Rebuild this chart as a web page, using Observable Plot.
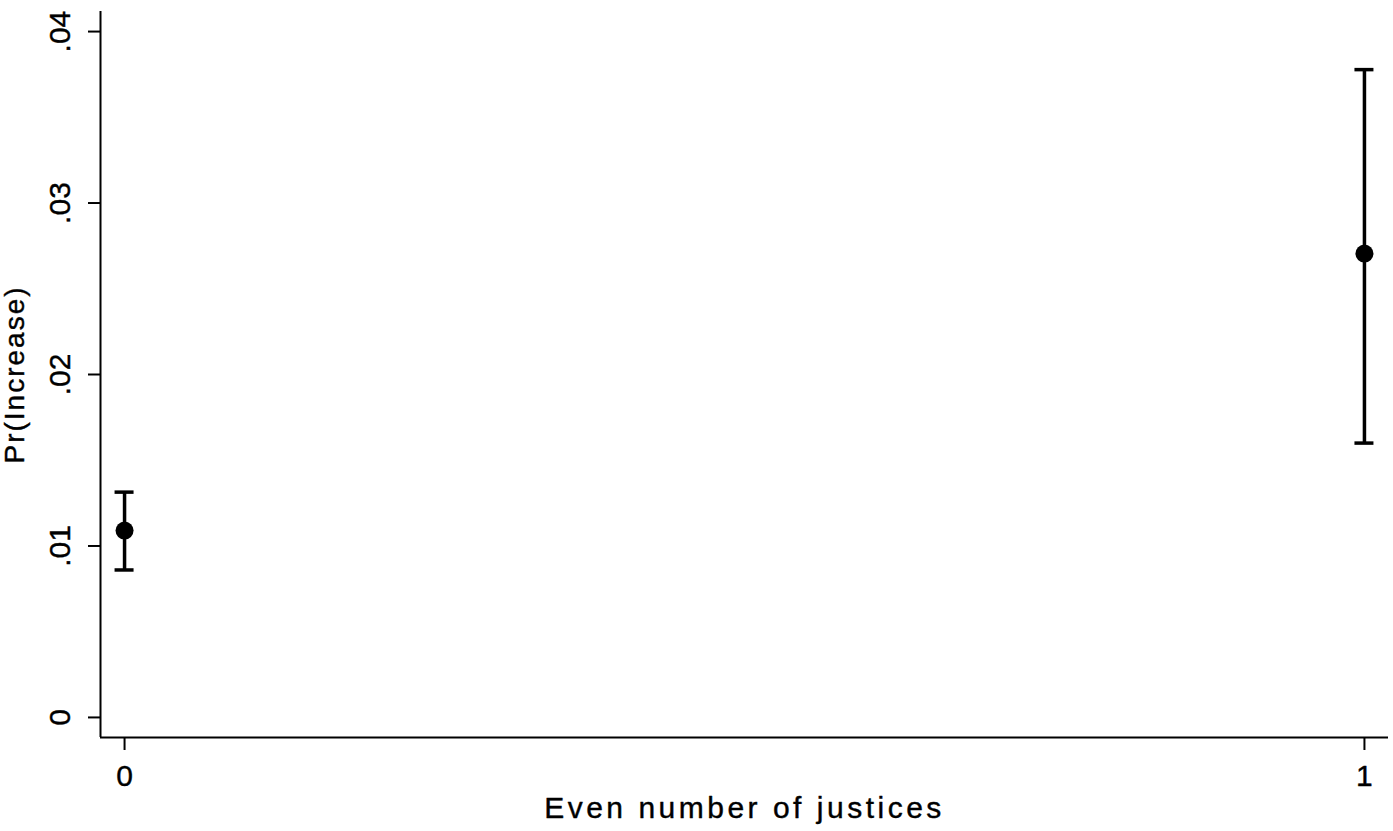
<!DOCTYPE html>
<html>
<head>
<meta charset="utf-8">
<script src="https://cdn.jsdelivr.net/npm/d3@7"></script>
<script src="https://cdn.jsdelivr.net/npm/@observablehq/plot@0.6"></script>
<style>
  html, body { margin: 0; padding: 0; background: #fff; }
  svg { display: block; }
</style>
</head>
<body>
<div id="chart"></div>
<script>
const categories = [0, 1];
const estimates = [0.0109, 0.02705];
const lower = [0.0086, 0.0160];
const upper = [0.01314, 0.03778];
const yTicks = [0, 0.01, 0.02, 0.03, 0.04];
const yTickLabels = ["0", ".01", ".02", ".03", ".04"];
const xTicks = [0, 1];
const xTickLabels = ["0", "1"];
const xTitle = "Even number of justices";
const yTitle = "Pr(Increase)";

const data = categories.map((c, i) => ({x: c, y: estimates[i], lo: lower[i], hi: upper[i]}));
const xDomain = [-0.0194, 1.0194];
const yDomain = [-0.00117, 0.04117];
const font = "Liberation Sans, Arial, sans-serif";

const chart = Plot.plot({
  width: 1393,
  height: 831,
  marginLeft: 100,
  marginRight: 5,
  marginTop: 11,
  marginBottom: 94,
  style: {fontFamily: font, color: "#000", background: "#fff"},
  x: {type: "linear", domain: xDomain, axis: null},
  y: {type: "linear", domain: yDomain, axis: null},
  marks: [
    Plot.ruleX([xDomain[0]], {x: d => d, stroke: "#000", strokeWidth: 2}),
    Plot.ruleY([yDomain[0]], {y: d => d, stroke: "#000", strokeWidth: 2}),
    // y ticks
    Plot.ruleY(yTicks, {y: d => d, x1: () => xDomain[0], x2: () => xDomain[0], insetLeft: -12, stroke: "#000", strokeWidth: 2}),
    Plot.text(yTicks, {x: () => xDomain[0], y: d => d, text: (d, i) => yTickLabels[i], rotate: -90, dx: -31, textAnchor: "middle", lineAnchor: "bottom", fontSize: 30, fill: "#000", stroke: "#000", strokeWidth: 0.4}),
    // x ticks
    Plot.ruleX(xTicks, {x: d => d, y1: () => yDomain[0], y2: () => yDomain[0], insetBottom: -13, stroke: "#000", strokeWidth: 2}),
    Plot.text(xTicks, {x: d => d, y: () => yDomain[0], text: (d, i) => xTickLabels[i], dy: 27, textAnchor: "middle", lineAnchor: "top", fontSize: 30, fill: "#000", stroke: "#000", strokeWidth: 0.4}),
    // titles
    Plot.text([xTitle], {frameAnchor: "bottom", dy: 80, text: d => d, fontSize: 30, fill: "#000", stroke: "#000", strokeWidth: 0.4, lineAnchor: "bottom"}),
    Plot.text([yTitle], {frameAnchor: "left", dx: -77, text: d => d, rotate: -90, fontSize: 28, fill: "#000", stroke: "#000", strokeWidth: 0.4, lineAnchor: "bottom", textAnchor: "middle"}),
    // error bars
    Plot.ruleX(data, {x: "x", y1: "lo", y2: "hi", stroke: "#000", strokeWidth: 3.5}),
    Plot.ruleY(data, {y: "hi", x1: "x", x2: "x", insetLeft: -9.5, insetRight: -9.5, stroke: "#000", strokeWidth: 3.5}),
    Plot.ruleY(data, {y: "lo", x1: "x", x2: "x", insetLeft: -9.5, insetRight: -9.5, stroke: "#000", strokeWidth: 3.5}),
    Plot.dot(data, {x: "x", y: "y", r: 9, fill: "#000", stroke: "none"})
  ]
});
d3.select(chart).selectAll("text").each(function() {
  const t = this.textContent;
  if (t === xTitle) this.setAttribute("letter-spacing", "3.5");
  if (t === yTitle) this.setAttribute("letter-spacing", "2");
});
document.getElementById("chart").appendChild(chart);
</script>
</body>
</html>
